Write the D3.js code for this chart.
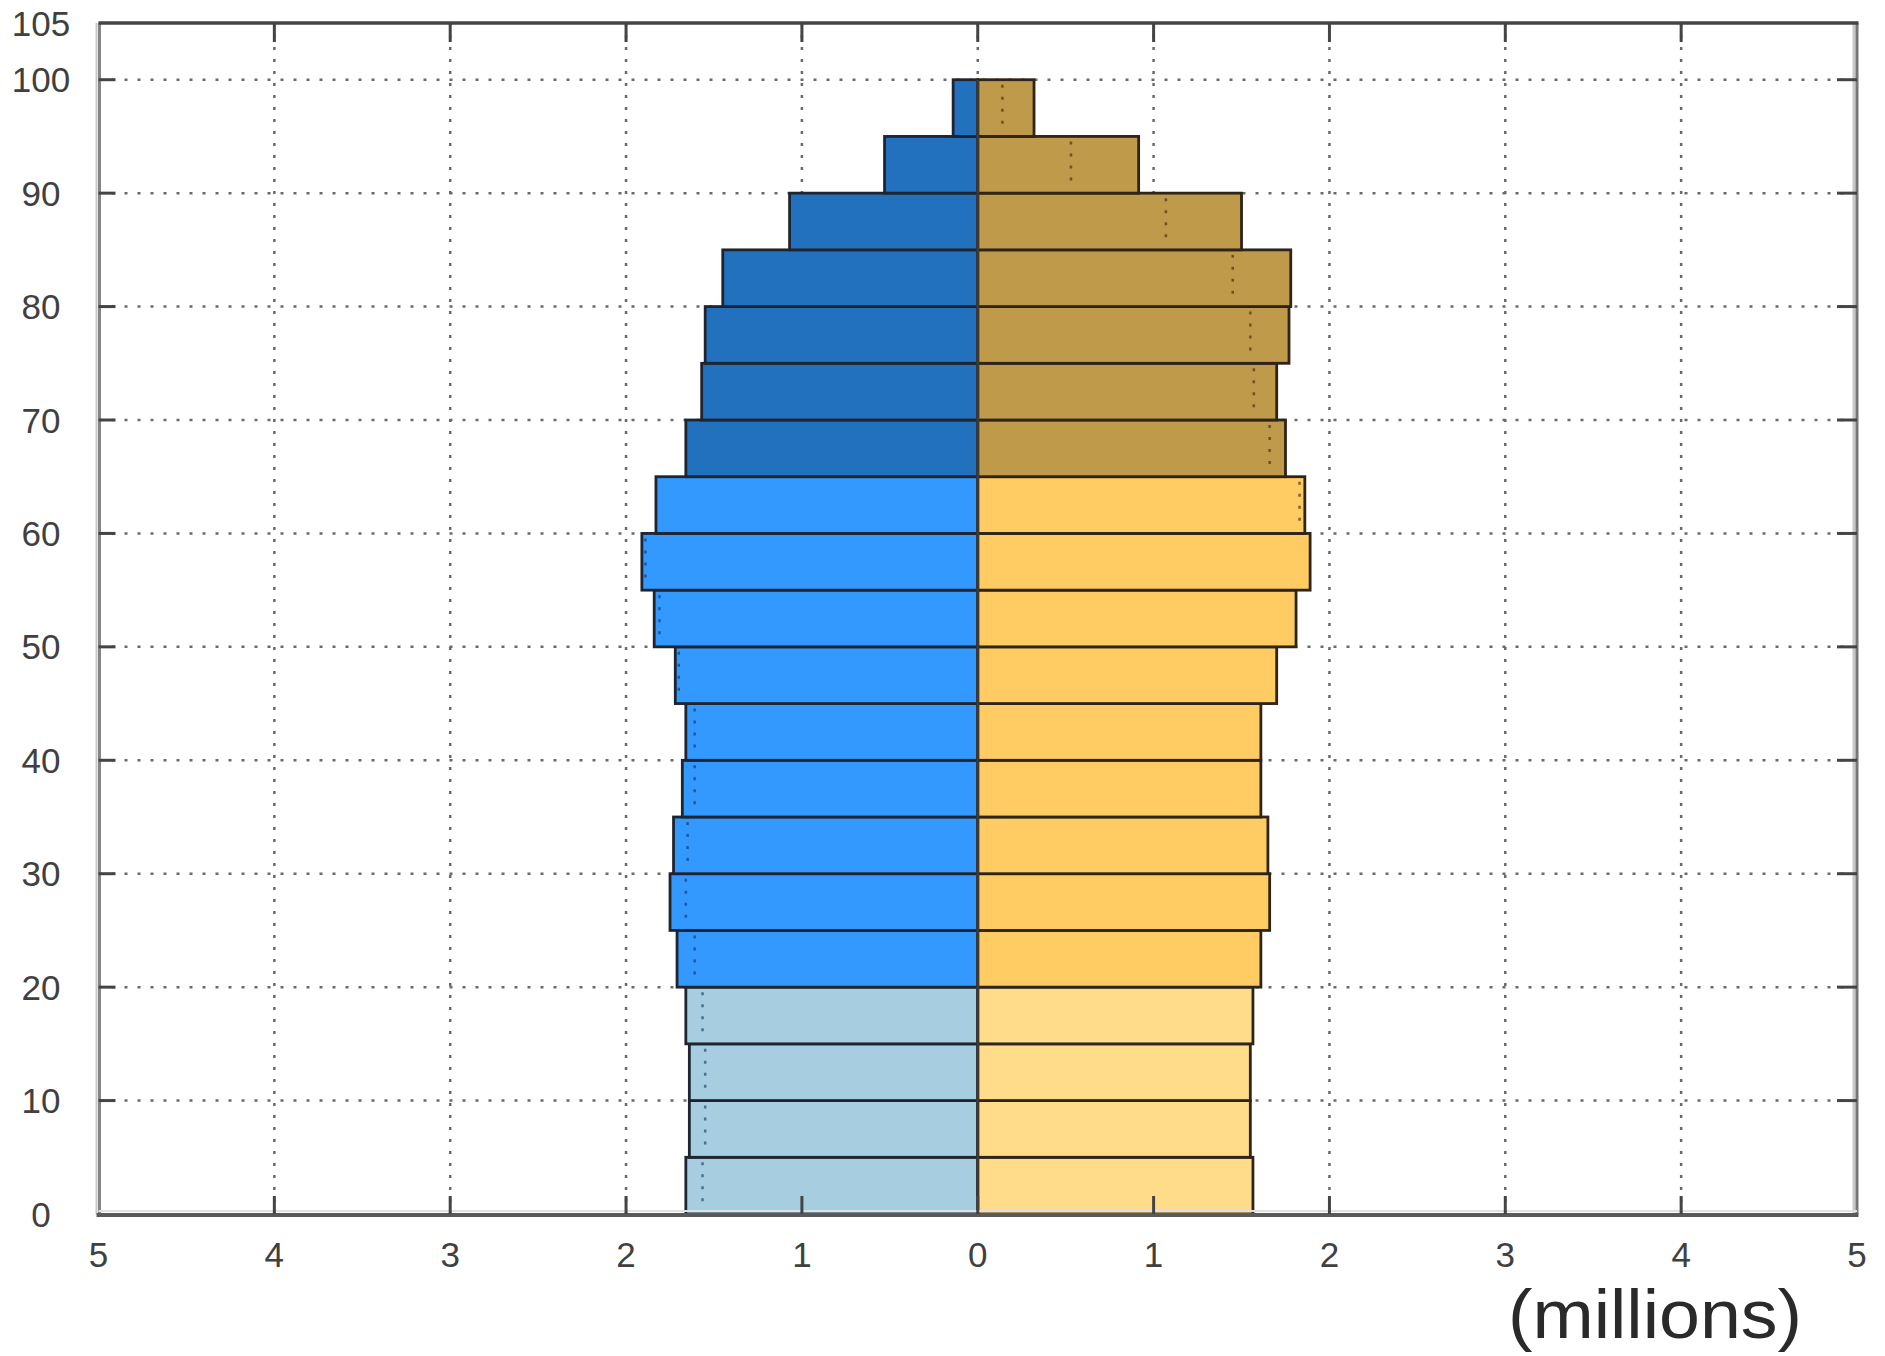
<!DOCTYPE html>
<html>
<head>
<meta charset="utf-8">
<script src="https://cdn.jsdelivr.net/npm/d3@7"></script>
<style>
  html, body { margin: 0; padding: 0; background: #fff; }
  svg { display: block; }
  text { font-family: "Liberation Sans", Arial, sans-serif; }
</style>
</head>
<body>
<svg id="chart" width="1885" height="1356"></svg>
<script>
// ---- data ----
const ageStarts = [0,5,10,15,20,25,30,35,40,45,50,55,60,65,70,75,80,85,90,95];
const maleValues = [1.66,1.64,1.64,1.66,1.71,1.75,1.73,1.68,1.66,1.72,1.84,1.91,1.83,1.66,1.57,1.55,1.45,1.07,0.53,0.14];
const femaleValues = [1.565,1.55,1.55,1.565,1.61,1.66,1.65,1.61,1.61,1.70,1.81,1.89,1.86,1.75,1.70,1.77,1.78,1.50,0.915,0.32];
const xTicks = [-5,-4,-3,-2,-1,0,1,2,3,4,5];
const yTicks = [0,10,20,30,40,50,60,70,80,90,100];
const yTopLabel = 105;
const unitLabel = "(millions)";
const bandWidth = 5;

// colours by age band: <20, 20-64, 65+
const maleColors = ["#a6cee0", "#3399ff", "#2171be"];
const femaleColors = ["#ffdc8a", "#ffcb63", "#bf9a4a"];
function band(a) { return a < 20 ? 0 : (a < 65 ? 1 : 2); }

// ---- layout ----
const svg = d3.select("#chart");
const x = d3.scaleLinear().domain([-5, 5]).range([98.5, 1857]);
const y = d3.scaleLinear().domain([0, 105]).range([1214, 23]);

const grid = svg.append("g");
grid.selectAll("line.vg").data(xTicks.filter(d => d > -5 && d < 5)).join("line")
  .attr("x1", d => x(d)).attr("x2", d => x(d))
  .attr("y1", y(105)).attr("y2", y(0))
  .attr("stroke", "#6a6a6a").attr("stroke-width", 2.5)
  .attr("stroke-dasharray", "3 9");
grid.selectAll("line.hg").data(yTicks.filter(d => d > 0)).join("line")
  .attr("x1", x(-5)).attr("x2", x(5))
  .attr("y1", d => y(d)).attr("y2", d => y(d))
  .attr("stroke", "#6a6a6a").attr("stroke-width", 2.5)
  .attr("stroke-dasharray", "3 10");

const rows = ageStarts.map((a, i) => ({ age: a, m: maleValues[i], f: femaleValues[i] }));

// bars
const bars = svg.append("g");
bars.selectAll("rect.m").data(rows).join("rect")
  .attr("x", d => x(-d.m))
  .attr("y", d => y(d.age + bandWidth))
  .attr("width", d => x(0) - x(-d.m))
  .attr("height", d => y(d.age) - y(d.age + bandWidth))
  .attr("fill", d => maleColors[band(d.age)])
  .attr("stroke", "#1e2530").attr("stroke-width", 2.8);
bars.selectAll("rect.f").data(rows).join("rect")
  .attr("x", x(0))
  .attr("y", d => y(d.age + bandWidth))
  .attr("width", d => x(d.f) - x(0))
  .attr("height", d => y(d.age) - y(d.age + bandWidth))
  .attr("fill", d => femaleColors[band(d.age)])
  .attr("stroke", "#2e2418").attr("stroke-width", 2.8);

// dotted comparison lines (opposite sex mirrored) where inside bar
const dots = svg.append("g");
dots.selectAll("line.dm").data(rows.filter(d => d.f < d.m)).join("line")
  .attr("x1", d => x(-d.f)).attr("x2", d => x(-d.f))
  .attr("y1", d => y(d.age + bandWidth) + 5).attr("y2", d => y(d.age) - 4)
  .attr("stroke", "rgba(20,45,90,0.6)").attr("stroke-width", 2.5)
  .attr("stroke-dasharray", "3 9");
dots.selectAll("line.df").data(rows.filter(d => d.m < d.f)).join("line")
  .attr("x1", d => x(d.m)).attr("x2", d => x(d.m))
  .attr("y1", d => y(d.age + bandWidth) + 5).attr("y2", d => y(d.age) - 4)
  .attr("stroke", "rgba(85,45,15,0.7)").attr("stroke-width", 2.5)
  .attr("stroke-dasharray", "3 9");

// centre line
svg.append("line")
  .attr("x1", x(0)).attr("x2", x(0))
  .attr("y1", y(d3.max(ageStarts) + bandWidth)).attr("y2", y(0))
  .attr("stroke", "#3a3a3a").attr("stroke-width", 3);

// frame
const frame = svg.append("g");
frame.append("line").attr("x1", x(-5) - 2).attr("x2", x(-5) - 2).attr("y1", y(105)).attr("y2", y(0))
  .attr("stroke", "#c8c8c8").attr("stroke-width", 2);
frame.append("line").attr("x1", x(-5) + 1).attr("x2", x(-5) + 1).attr("y1", y(105)).attr("y2", y(0))
  .attr("stroke", "#858585").attr("stroke-width", 3);
frame.append("line").attr("x1", x(5) - 3).attr("x2", x(5) - 3).attr("y1", y(105)).attr("y2", y(0))
  .attr("stroke", "#c8c8c8").attr("stroke-width", 3);
frame.append("line").attr("x1", x(5)).attr("x2", x(5)).attr("y1", y(105)).attr("y2", y(0))
  .attr("stroke", "#777").attr("stroke-width", 3);
frame.append("line").attr("x1", x(-5)).attr("x2", x(5) + 1.5).attr("y1", y(105)).attr("y2", y(105))
  .attr("stroke", "#444").attr("stroke-width", 3.5);
frame.append("line").attr("x1", x(-5)).attr("x2", x(5)).attr("y1", y(0) - 3).attr("y2", y(0) - 3)
  .attr("stroke", "#e0e0e0").attr("stroke-width", 2);
frame.append("line").attr("x1", x(-5) - 2).attr("x2", x(5) + 1.5).attr("y1", y(0) + 1).attr("y2", y(0) + 1)
  .attr("stroke", "#5a5a5a").attr("stroke-width", 4);

// ticks
const ticks = svg.append("g").attr("stroke", "#444").attr("stroke-width", 3);
ticks.selectAll("line.tb").data(xTicks.filter(d => d > -5 && d < 5)).join("line")
  .attr("x1", d => x(d)).attr("x2", d => x(d))
  .attr("y1", y(0)).attr("y2", y(0) - 18);
ticks.selectAll("line.tt").data(xTicks.filter(d => d > -5 && d < 5)).join("line")
  .attr("x1", d => x(d)).attr("x2", d => x(d))
  .attr("y1", y(105)).attr("y2", y(105) + 19);
ticks.selectAll("line.tl").data(yTicks.filter(d => d > 0)).join("line")
  .attr("x1", x(-5)).attr("x2", x(-5) + 17)
  .attr("y1", d => y(d)).attr("y2", d => y(d));
ticks.selectAll("line.tr").data(yTicks.filter(d => d > 0)).join("line")
  .attr("x1", x(5)).attr("x2", x(5) - 20)
  .attr("y1", d => y(d)).attr("y2", d => y(d));

// labels
const labels = svg.append("g").attr("fill", "#404040").attr("font-size", 35);
labels.selectAll("text.yl").data(yTicks.concat([yTopLabel])).join("text")
  .attr("x", 41).attr("y", d => y(d) + 12.5)
  .attr("text-anchor", "middle")
  .text(d => d);
labels.selectAll("text.xl").data(xTicks).join("text")
  .attr("x", d => x(d)).attr("y", 1267)
  .attr("text-anchor", "middle")
  .text(d => Math.abs(d));

svg.append("text")
  .attr("x", 1508).attr("y", 1338)
  .attr("font-size", 68)
  .attr("fill", "#2a2a2a")
  .attr("textLength", 294)
  .attr("lengthAdjust", "spacingAndGlyphs")
  .text(unitLabel);
</script>
</body>
</html>
